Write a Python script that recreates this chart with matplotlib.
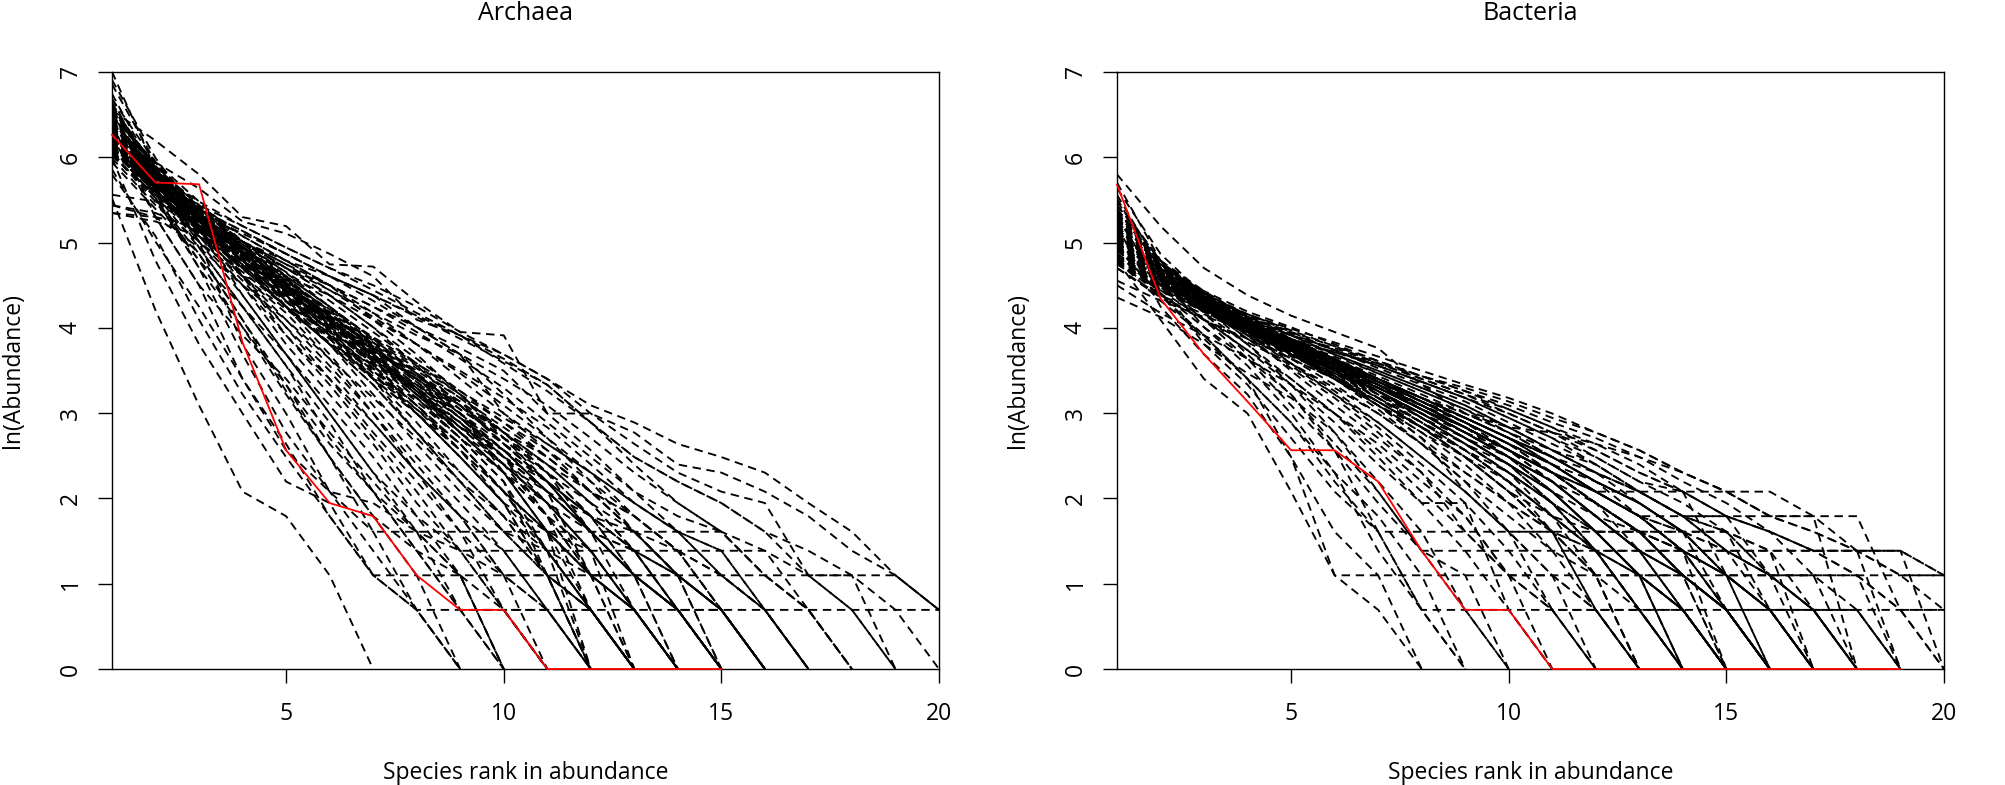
import numpy as np
import matplotlib
matplotlib.use("Agg")
import matplotlib.pyplot as plt

plt.rcParams['font.family'] = ['Open Sans', 'DejaVu Sans']

# Abundancias observadas (ordenadas por rango)
archaea_obs = [525, 300, 294, 46, 13, 7, 6, 3, 2, 2, 1, 1, 1, 1, 1]
bacteria_obs = [293, 77, 40, 23, 13, 13, 9, 4, 2, 2, 1, 1, 1, 1, 1, 1, 1, 1, 1]

# Comunidades simuladas (abundancias ordenadas)
archaea_sims = [
    [250, 67, 22, 8, 6, 3, 1],
    [520, 200, 90, 30, 13, 8, 5, 2, 1],
    [400, 120, 45, 20, 9, 7, 3, 2, 1],
    [700, 250, 110, 40, 16, 8, 4, 2, 1],
    [330, 160, 60, 25, 12, 6, 3, 3, 1],
    [450, 270, 110, 55, 28, 14, 8, 4, 2, 1],
    [600, 200, 90, 50, 30, 16, 9, 5, 3, 1],
    [380, 220, 130, 60, 26, 12, 6, 3, 3, 1],
    [800, 300, 140, 70, 35, 18, 8, 4, 2, 1],
    [500, 330, 150, 45, 20, 8, 7, 5, 3, 1],
    [550, 280, 160, 90, 45, 25, 14, 7, 4, 2, 1],
    [420, 250, 120, 70, 40, 22, 12, 6, 3, 2, 1],
    [1100, 350, 180, 80, 40, 20, 10, 6, 4, 3, 1],
    [230, 200, 140, 90, 50, 28, 15, 8, 4, 2, 1],
    [650, 300, 170, 100, 55, 30, 16, 9, 5, 2, 1],
    [600, 330, 180, 110, 70, 40, 22, 12, 7, 4, 2, 1],
    [480, 260, 160, 95, 55, 33, 18, 10, 6, 3, 2, 1],
    [750, 300, 150, 90, 60, 35, 20, 11, 6, 3, 2, 1],
    [400, 230, 150, 100, 65, 38, 20, 10, 5, 3, 3, 1],
    [1000, 400, 200, 100, 50, 30, 18, 10, 6, 4, 2, 1],
    [560, 310, 190, 120, 80, 50, 30, 18, 10, 6, 3, 2, 1],
    [450, 280, 170, 110, 70, 45, 28, 16, 9, 5, 3, 2, 1],
    [680, 350, 200, 120, 75, 45, 25, 14, 8, 5, 4, 2, 1],
    [210, 190, 160, 105, 70, 48, 30, 20, 12, 7, 4, 2, 1],
    [850, 330, 170, 100, 60, 38, 24, 15, 9, 6, 3, 2, 1],
    [500, 300, 200, 150, 100, 55, 30, 16, 9, 5, 3, 2, 1],
    [620, 340, 210, 140, 90, 60, 40, 25, 16, 10, 6, 4, 2, 1],
    [500, 290, 180, 120, 85, 55, 35, 22, 14, 8, 5, 3, 2, 1],
    [720, 360, 200, 130, 80, 50, 32, 20, 13, 8, 5, 3, 3, 1],
    [430, 270, 180, 125, 90, 62, 40, 26, 16, 10, 5, 3, 2, 1],
    [950, 380, 190, 110, 70, 45, 30, 20, 12, 7, 5, 4, 2, 1],
    [580, 330, 210, 140, 100, 70, 48, 32, 20, 13, 8, 5, 3, 2, 1],
    [470, 300, 200, 140, 95, 65, 44, 30, 20, 12, 8, 5, 3, 2, 1],
    [660, 320, 200, 130, 90, 60, 40, 27, 18, 11, 7, 5, 4, 2, 1],
    [230, 210, 170, 130, 100, 80, 55, 35, 22, 14, 9, 5, 3, 2, 1],
    [800, 380, 220, 150, 110, 90, 60, 40, 25, 15, 9, 5, 3, 2, 1],
    [550, 330, 220, 150, 110, 80, 55, 38, 26, 18, 12, 8, 5, 3, 2, 1],
    [480, 290, 200, 145, 105, 75, 52, 36, 25, 16, 10, 6, 4, 3, 2, 1],
    [700, 350, 230, 160, 120, 90, 65, 45, 30, 20, 13, 8, 5, 4, 2, 1],
    [260, 240, 190, 150, 120, 100, 80, 55, 40, 25, 15, 9, 5, 3, 2, 1],
    [600, 340, 220, 160, 120, 90, 70, 52, 38, 27, 18, 12, 8, 5, 4, 2, 1],
    [520, 310, 210, 150, 110, 80, 60, 45, 33, 24, 17, 11, 7, 5, 4, 2, 1],
    [210, 200, 180, 140, 110, 85, 65, 50, 40, 20, 14, 10, 6, 4, 3, 2, 1],
    [640, 320, 210, 150, 115, 85, 62, 45, 32, 22, 15, 10, 7, 5, 3, 2, 1],
    [560, 330, 220, 170, 130, 100, 75, 55, 40, 30, 22, 15, 10, 7, 5, 4, 2, 1],
    [450, 300, 200, 150, 115, 90, 70, 55, 43, 33, 20, 13, 8, 6, 5, 3, 2, 1],
    [500, 320, 230, 180, 140, 110, 90, 70, 52, 40, 30, 20, 14, 10, 8, 7, 3, 2, 1],
    [420, 290, 210, 165, 130, 100, 80, 63, 50, 38, 28, 18, 12, 9, 7, 5, 3, 3, 1],
    [540, 340, 240, 180, 140, 110, 85, 65, 50, 36, 26, 18, 12, 9, 7, 5, 4, 3, 2, 1],
    [460, 300, 220, 170, 130, 100, 80, 62, 48, 37, 28, 18, 11, 7, 5, 3, 2, 2, 2, 2, 2, 1],
    [700, 490, 330, 200, 180, 115, 112, 74, 52, 50, 20, 20, 16, 11, 10, 8, 6, 4, 3, 2, 2, 1],
    [600, 380, 280, 190, 165, 130, 100, 60, 50, 40, 30, 22, 18, 14, 12, 10, 7, 5, 3, 2, 1],
    [350, 150, 70, 30, 14, 6, 3, 2, 2, 2, 2, 2, 1],
    [560, 280, 150, 80, 40, 20, 10, 5, 2, 2, 2, 2, 2, 2, 2, 2, 2, 1],
    [450, 250, 130, 60, 28, 12, 6, 4, 3, 3, 3, 3, 3, 3, 2, 1],
    [600, 300, 180, 110, 70, 45, 28, 16, 10, 6, 4, 3, 3, 3, 3, 3, 3, 3, 3, 2, 1],
    [500, 260, 140, 70, 35, 15, 8, 5, 4, 4, 4, 4, 4, 4, 4, 4, 3, 2, 1],
    [420, 240, 120, 55, 25, 12, 5, 5, 5, 5, 5, 5, 5, 5, 5, 3, 2, 1],
    [480, 300, 190, 120, 75, 50, 33, 22, 14, 8, 4, 2, 1],
    [620, 330, 170, 110, 80, 48, 30, 24, 15, 9, 3, 1],
    [530, 270, 200, 130, 70, 55, 40, 26, 18, 12, 6, 3, 2, 1],
    [410, 310, 210, 100, 85, 60, 35, 28, 20, 10, 5, 1],
    [700, 360, 230, 140, 90, 52, 38, 25, 16, 11, 7, 4, 1],
    [560, 290, 180, 135, 95, 65, 42, 30, 22, 14, 9, 6, 3, 2, 1],
    [450, 250, 160, 115, 70, 45, 34, 20, 12, 7, 3, 1],
    [650, 380, 240, 150, 100, 70, 45, 32, 21, 15, 10, 5, 4, 2, 1],
    [590, 320, 190, 125, 88, 58, 36, 27, 17, 13, 8, 3, 2, 1],
    [500, 280, 215, 140, 92, 62, 44, 29, 19, 12, 9, 6, 5, 3, 1],
    [760, 340, 200, 118, 78, 54, 37, 24, 15, 10, 5, 2, 1],
    [430, 290, 175, 128, 86, 57, 41, 31, 23, 16, 11, 7, 4, 3, 2, 1],
    [610, 350, 205, 135, 82, 60, 39, 25, 18, 11, 6, 3, 1],
    [520, 300, 185, 112, 74, 49, 35, 23, 15, 9, 4, 1],
    [680, 310, 220, 145, 98, 66, 46, 33, 24, 17, 12, 8, 5, 3, 2, 1],
    [470, 260, 170, 108, 80, 56, 38, 27, 16, 10, 6, 2, 1],
    [580, 340, 195, 130, 90, 64, 43, 30, 20, 14, 10, 7, 4, 2, 1],
    [720, 330, 190, 124, 84, 52, 34, 22, 13, 8, 4, 2, 1],
    [540, 315, 225, 150, 104, 70, 48, 35, 25, 18, 13, 9, 6, 4, 2, 1],
    [440, 270, 165, 100, 68, 46, 31, 21, 13, 7, 3, 1],
    [630, 300, 180, 120, 87, 61, 40, 28, 19, 13, 8, 5, 3, 2, 1],
    [510, 295, 188, 132, 93, 63, 45, 31, 22, 15, 11, 7, 5, 3, 2, 1],
    [600, 345, 210, 126, 81, 53, 36, 24, 16, 10, 7, 4, 2, 1],
    [490, 265, 178, 117, 77, 51, 33, 21, 14, 8, 5, 3, 1],
    [660, 370, 215, 142, 96, 67, 47, 34, 24, 16, 11, 8, 6, 4, 3, 2, 1],
    [545, 305, 192, 138, 91, 59, 42, 29, 20, 13, 9, 5, 3, 2, 1],
    [460, 285, 182, 122, 83, 57, 39, 26, 17, 12, 7, 3, 2, 1],
    [740, 355, 198, 128, 85, 58, 40, 27, 19, 12, 8, 5, 3, 2, 1],
    [570, 325, 205, 136, 94, 68, 49, 36, 26, 19, 14, 10, 7, 5, 3, 2, 1],
    [505, 275, 172, 114, 79, 54, 37, 25, 17, 11, 7, 4, 2, 1],
    [640, 335, 208, 133, 89, 61, 42, 30, 21, 15, 10, 6, 4, 3, 1],
    [555, 290, 200, 127, 87, 63, 46, 32, 23, 14, 9, 5, 2, 1],
    [410, 260, 175, 120, 84, 59, 43, 31, 22, 16, 12, 8, 6, 4, 2, 1],
    [690, 365, 212, 137, 92, 62, 41, 28, 19, 13, 9, 6, 3, 1],
    [525, 310, 196, 131, 90, 60, 38, 26, 17, 11, 8, 6, 4, 2, 2, 1],
]

bacteria_sims = [
    [120, 60, 30, 20, 8, 3, 2, 1],
    [180, 70, 40, 25, 12, 5, 3, 1],
    [200, 90, 45, 28, 15, 8, 5, 2, 1],
    [140, 80, 50, 30, 12, 3, 3, 3, 1],
    [250, 100, 55, 35, 20, 10, 4, 2, 1],
    [160, 95, 60, 38, 22, 13, 7, 4, 2, 1],
    [220, 110, 65, 40, 25, 14, 8, 4, 3, 1],
    [78, 62, 45, 32, 24, 16, 9, 5, 2, 1],
    [180, 100, 65, 45, 30, 20, 12, 7, 4, 2, 1],
    [130, 85, 60, 42, 30, 20, 13, 8, 5, 3, 1],
    [260, 110, 70, 45, 28, 18, 11, 7, 7, 2, 1],
    [170, 100, 70, 48, 35, 25, 17, 11, 7, 4, 2, 1],
    [210, 120, 75, 50, 33, 22, 15, 10, 6, 3, 2, 1],
    [90, 65, 50, 38, 28, 20, 14, 9, 6, 3, 3, 1],
    [300, 120, 70, 48, 34, 24, 16, 10, 5, 3, 2, 1],
    [150, 95, 68, 50, 38, 28, 20, 14, 9, 6, 4, 2, 1],
    [190, 110, 75, 55, 40, 30, 21, 14, 9, 5, 3, 2, 1],
    [120, 80, 60, 46, 36, 27, 20, 14, 10, 7, 5, 2, 1],
    [240, 120, 78, 52, 36, 25, 18, 12, 8, 5, 3, 2, 1],
    [165, 100, 72, 54, 40, 30, 22, 15, 8, 5, 5, 3, 1],
    [175, 105, 75, 56, 42, 32, 24, 18, 13, 9, 6, 4, 2, 1],
    [140, 90, 68, 52, 40, 31, 23, 17, 12, 8, 5, 3, 2, 1],
    [220, 115, 78, 56, 42, 30, 22, 16, 11, 7, 4, 3, 3, 1],
    [110, 78, 60, 48, 38, 30, 23, 17, 12, 8, 5, 4, 2, 1],
    [160, 100, 72, 55, 43, 34, 26, 20, 15, 11, 8, 5, 3, 2, 1],
    [200, 110, 78, 58, 44, 34, 26, 19, 14, 10, 7, 5, 3, 2, 1],
    [130, 88, 66, 52, 42, 33, 26, 20, 15, 11, 7, 4, 3, 2, 1],
    [280, 130, 80, 56, 40, 30, 22, 17, 13, 9, 6, 4, 2, 2, 1],
    [150, 95, 70, 54, 42, 33, 25, 19, 14, 10, 6, 5, 5, 4, 1],
    [170, 105, 76, 58, 46, 36, 28, 22, 17, 13, 10, 7, 5, 3, 2, 1],
    [140, 92, 70, 55, 44, 35, 28, 22, 17, 12, 9, 6, 4, 3, 2, 1],
    [210, 115, 80, 60, 46, 36, 28, 21, 16, 12, 9, 6, 4, 4, 3, 1],
    [120, 85, 66, 53, 43, 35, 28, 22, 17, 13, 10, 8, 8, 8, 3, 1],
    [190, 110, 78, 58, 45, 35, 27, 21, 16, 12, 8, 5, 5, 5, 2, 1],
    [160, 100, 75, 58, 47, 38, 30, 24, 19, 15, 11, 8, 6, 4, 3, 2, 1],
    [230, 120, 82, 62, 48, 37, 29, 23, 18, 14, 10, 7, 5, 5, 5, 2, 1],
    [135, 90, 70, 56, 46, 37, 30, 24, 19, 15, 11, 8, 6, 6, 6, 3, 1],
    [180, 108, 78, 60, 48, 38, 30, 23, 18, 13, 10, 7, 5, 4, 4, 4, 1],
    [110, 80, 64, 52, 43, 36, 29, 24, 19, 15, 12, 9, 6, 4, 2, 2, 1],
    [170, 105, 78, 62, 50, 40, 33, 27, 22, 17, 13, 10, 8, 6, 4, 2, 2, 1],
    [145, 95, 72, 58, 48, 40, 33, 27, 22, 17, 13, 10, 7, 5, 3, 3, 3, 1],
    [200, 115, 82, 63, 50, 40, 32, 26, 21, 16, 12, 9, 7, 5, 5, 4, 2, 1],
    [125, 88, 68, 56, 47, 39, 32, 26, 21, 17, 13, 11, 8, 6, 6, 6, 6, 1],
    [160, 102, 78, 62, 51, 42, 35, 29, 24, 19, 15, 12, 9, 7, 5, 4, 4, 4, 1],
    [190, 110, 82, 64, 52, 42, 34, 28, 23, 18, 14, 11, 8, 6, 5, 3, 2, 2, 1],
    [140, 95, 74, 60, 50, 42, 35, 29, 24, 19, 15, 11, 8, 6, 4, 3, 3, 3, 1],
    [115, 84, 67, 56, 48, 41, 35, 29, 24, 20, 16, 13, 10, 8, 6, 5, 3, 2, 1],
    [155, 100, 77, 62, 52, 44, 37, 31, 26, 21, 17, 13, 10, 8, 6, 5, 4, 3, 2, 1],
    [175, 108, 80, 64, 53, 44, 36, 30, 25, 20, 16, 12, 9, 8, 8, 6, 6, 6, 2, 1],
    [130, 92, 72, 59, 50, 43, 36, 30, 25, 21, 17, 14, 11, 8, 6, 5, 4, 4, 4, 1],
    [330, 180, 110, 80, 63, 52, 43, 28, 20, 17, 16, 14, 12, 10, 8, 8, 6, 4, 4, 3, 2, 1],
    [150, 100, 78, 64, 54, 46, 39, 33, 28, 24, 20, 16, 13, 10, 8, 6, 5, 4, 3, 2, 2, 1],
    [200, 112, 84, 66, 55, 45, 37, 31, 26, 22, 18, 15, 12, 9, 7, 5, 4, 3, 2, 2, 2, 1],
    [95, 75, 62, 54, 47, 41, 36, 31, 27, 23, 19, 16, 13, 10, 8, 6, 5, 4, 3, 3, 2, 1],
    [120, 75, 50, 30, 18, 9, 5, 2, 2, 2, 2, 2, 2, 1],
    [170, 100, 70, 50, 36, 26, 18, 12, 8, 5, 2, 2, 2, 2, 2, 2, 2, 2, 2, 2, 2, 1],
    [140, 80, 48, 30, 18, 10, 6, 3, 3, 3, 3, 3, 3, 3, 2, 1],
    [165, 98, 72, 55, 42, 31, 22, 15, 10, 7, 5, 4, 3, 3, 3, 3, 3, 3, 3, 3, 2, 1],
    [150, 90, 60, 42, 28, 16, 8, 4, 4, 4, 4, 4, 4, 3, 2, 1],
    [180, 105, 75, 57, 44, 33, 24, 17, 12, 8, 6, 4, 4, 4, 4, 4, 4, 4, 4, 3, 2, 1],
    [130, 82, 55, 38, 25, 13, 5, 5, 5, 5, 5, 5, 5, 3, 1],
    [160, 100, 70, 52, 40, 31, 24, 18, 14, 10, 7, 4, 2, 1],
    [200, 110, 78, 55, 41, 33, 25, 20, 15, 12, 9, 6, 4, 2, 1],
    [140, 96, 72, 50, 38, 30, 22, 16, 12, 9, 6, 3, 1],
    [180, 104, 74, 58, 45, 35, 27, 21, 16, 13, 10, 7, 5, 3, 2, 1],
    [125, 90, 66, 51, 39, 32, 26, 19, 15, 11, 8, 5, 3, 1],
    [210, 115, 80, 60, 44, 34, 26, 20, 15, 11, 7, 4, 2, 1],
    [150, 98, 73, 54, 43, 33, 27, 22, 17, 13, 10, 8, 6, 4, 2, 1],
    [170, 102, 71, 53, 42, 30, 23, 17, 13, 9, 5, 2, 1],
    [135, 92, 70, 55, 42, 34, 28, 22, 18, 14, 11, 8, 6, 4, 3, 2, 1],
    [190, 108, 76, 57, 44, 36, 28, 21, 16, 12, 8, 5, 3, 2, 1],
    [155, 99, 75, 56, 46, 37, 29, 23, 18, 14, 11, 9, 7, 5, 3, 2, 1],
    [220, 118, 82, 61, 47, 35, 26, 19, 14, 10, 7, 5, 3, 1],
    [145, 94, 69, 52, 41, 32, 25, 19, 14, 11, 8, 6, 4, 2, 1],
    [175, 106, 77, 59, 47, 38, 30, 24, 19, 15, 12, 9, 7, 5, 4, 3, 2, 1],
    [130, 88, 67, 51, 40, 32, 24, 18, 13, 10, 7, 4, 2, 1],
    [195, 112, 79, 58, 45, 35, 28, 22, 17, 13, 9, 7, 5, 3, 2, 1],
    [165, 101, 73, 56, 43, 33, 26, 20, 16, 12, 9, 6, 4, 3, 2, 1],
    [118, 86, 68, 54, 44, 36, 29, 23, 18, 14, 11, 8, 6, 4, 2, 1],
    [205, 114, 80, 60, 46, 37, 29, 23, 18, 14, 11, 8, 6, 5, 3, 2, 1],
    [150, 97, 71, 54, 41, 31, 23, 17, 12, 8, 5, 3, 1],
    [185, 107, 76, 57, 45, 36, 29, 23, 19, 15, 12, 10, 8, 6, 4, 3, 2, 1],
    [140, 93, 71, 55, 44, 35, 27, 21, 16, 12, 9, 6, 4, 3, 1],
    [160, 103, 75, 57, 45, 34, 25, 18, 13, 9, 6, 4, 3, 2, 1],
    [230, 120, 84, 62, 48, 38, 30, 24, 19, 15, 12, 9, 7, 5, 4, 3, 2, 2, 1],
    [128, 90, 70, 56, 45, 37, 30, 24, 20, 16, 13, 10, 8, 6, 5, 3, 2, 1],
    [172, 104, 77, 58, 46, 36, 28, 22, 17, 13, 10, 7, 5, 4, 2, 1],
    [148, 96, 72, 56, 44, 35, 27, 21, 17, 13, 9, 6, 5, 3, 2, 1],
    [198, 111, 79, 59, 46, 37, 30, 24, 19, 15, 11, 8, 6, 4, 3, 2, 1],
    [137, 91, 68, 53, 42, 33, 26, 20, 15, 11, 8, 5, 3, 2, 1],
    [182, 105, 76, 58, 47, 38, 31, 25, 20, 16, 12, 9, 7, 5, 3, 2, 1],
    [158, 100, 74, 57, 44, 34, 27, 21, 16, 12, 8, 5, 3, 2, 1],
    [215, 116, 81, 61, 48, 38, 29, 22, 17, 13, 10, 7, 4, 2, 1],
    [122, 87, 66, 52, 42, 34, 27, 21, 17, 13, 10, 7, 5, 3, 2, 1],
    [168, 102, 75, 58, 46, 37, 29, 23, 18, 14, 10, 7, 5, 4, 3, 2, 1],
    [142, 95, 70, 54, 43, 34, 27, 22, 17, 13, 10, 8, 6, 5, 3, 2, 2, 1],
]

paneles = [
    ("Archaea", archaea_sims, archaea_obs),
    ("Bacteria", bacteria_sims, bacteria_obs),
]

W, H = 2006, 785
fig = plt.figure(figsize=(W / 100, H / 100), dpi=100)

# Posiciones de los paneles en pixeles (izq, der)
bordes = [(112, 939), (1117, 1944)]
top_px, bottom_px = 72, 669

for (titulo, sims, obs), (x0, x1) in zip(paneles, bordes):
    ax = fig.add_axes([x0 / W, 1 - bottom_px / H, (x1 - x0) / W, (bottom_px - top_px) / H])

    for s in sims:
        rangos = np.arange(1, len(s) + 1)
        ax.plot(rangos, np.log(s), color="black", lw=1.35,
                linestyle=(0, (4.5, 3)), zorder=2)

    rangos = np.arange(1, len(obs) + 1)
    ax.plot(rangos, np.log(obs), color="red", lw=1.3, zorder=5, clip_on=False)

    ax.set_xlim(1, 20)
    ax.set_ylim(0, 7)
    ax.set_xticks([5, 10, 15, 20])
    ax.set_yticks(range(0, 8))
    ax.tick_params(axis="both", direction="out", length=10, width=1.0,
                   labelsize=16.5, color="black")
    ax.tick_params(axis="x", pad=14)
    ax.tick_params(axis="y", pad=11)
    for lab in ax.get_yticklabels():
        lab.set_rotation(90)
        lab.set_va("center")
    for sp in ax.spines.values():
        sp.set_linewidth(1.0)
        sp.set_color("black")

    xc = (x0 + x1) / 2 / W
    fig.text(xc, 1 - 14 / H, titulo, ha="center", va="center", fontsize=18)
    fig.text(xc, 1 - 773 / H, "Species rank in abundance", ha="center",
             va="center", fontsize=16.5)
    fig.text((x0 - 99) / W, 1 - 370 / H, "ln(Abundance)", ha="center",
             va="center", rotation=90, fontsize=16.5)

fig.savefig("out.png", dpi=100)
